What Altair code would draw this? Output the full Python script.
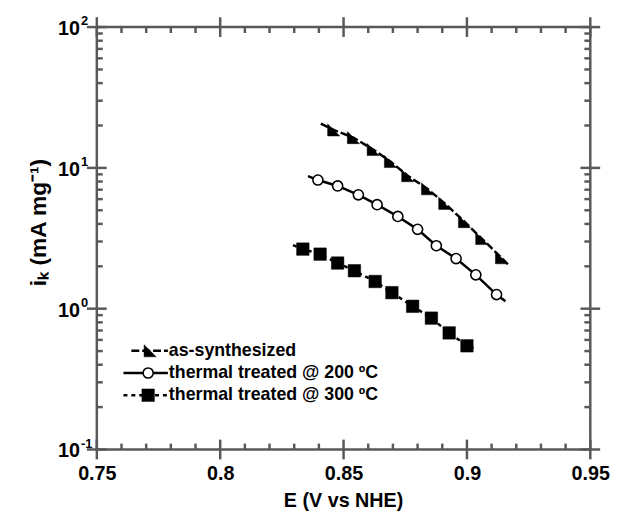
import altair as alt
import pandas as pd

# ---------------- data ----------------
# as-synthesized (triangles)
tri_E = [0.846, 0.854, 0.862, 0.869, 0.876, 0.884, 0.891, 0.899, 0.906, 0.914]
tri_i = [18.6, 16.4, 13.5, 11.1, 8.8, 7.1, 5.6, 4.15, 3.15, 2.3]
tri_line_E = [0.8408] + tri_E + [0.9168]
tri_line_i = [20.6] + tri_i + [2.05]

# thermal treated @ 200 C (open circles)
cir_E = [0.8396, 0.8476, 0.856, 0.8636, 0.872, 0.880, 0.8876, 0.8956, 0.9036, 0.912]
cir_i = [8.2, 7.44, 6.44, 5.48, 4.52, 3.66, 2.8, 2.27, 1.74, 1.26]
cir_line_E = [0.8356] + cir_E + [0.9156]
cir_line_i = [8.75] + cir_i + [1.13]

# thermal treated @ 300 C (filled squares)
sq_E = [0.8335, 0.8405, 0.8476, 0.8544, 0.8628, 0.8696, 0.878, 0.8856, 0.8928, 0.900]
sq_i = [2.65, 2.44, 2.11, 1.86, 1.56, 1.30, 1.04, 0.857, 0.673, 0.545]
sq_line_E = [0.8295] + sq_E + [0.9036]
sq_line_i = [2.83] + sq_i + [0.52]

legend_labels = ["as-synthesized", "thermal treated @ 200 \u00baC", "thermal treated @ 300 \u00baC"]

x_major = [0.75, 0.80, 0.85, 0.90, 0.95]
x_minor = [0.76, 0.77, 0.78, 0.79, 0.81, 0.82, 0.83, 0.84, 0.86, 0.87, 0.88, 0.89,
           0.91, 0.92, 0.93, 0.94]
y_major = [0.1, 1, 10, 100]
y_exp = ["-1", "0", "1", "2"]
y_minor = [0.2, 0.3, 0.4, 0.5, 0.6, 0.7, 0.8, 0.9,
           2, 3, 4, 5, 6, 7, 8, 9,
           20, 30, 40, 50, 60, 70, 80, 90]

x_title = "E (V vs NHE)"
y_title = "i\u2096 (mA mg\u207b\u00b9)"

# ---------------- styling ----------------
W, H = 500, 428
AX = "#595959"
FONT = "Liberation Sans"
TW = 2.5

xs = alt.Scale(domain=[0.75, 0.95], nice=False, zero=False)
ys = alt.Scale(type="log", domain=[0.1, 100], nice=False)

x_axis = alt.Axis(values=x_major, format="~g", ticks=False, domain=False, grid=False,
                  labelFont=FONT, labelFontSize=20, labelFontWeight="bold",
                  labelColor="black", labelPadding=14, labelFlush=False,
                  labelOverlap=False, title=None)
y_axis = alt.Axis(labels=False, ticks=False, domain=False, grid=False, title=None)


def X(field):
    return alt.X(field, type="quantitative", scale=xs, axis=x_axis)


def Y(field):
    return alt.Y(field, type="quantitative", scale=ys, axis=y_axis)


def df(E, I):
    return pd.DataFrame({"E": E, "i": I})


one = pd.DataFrame({"a": [0]})

tri_shape = "M -1 -1 L -1 1 L 1 1 Z"

layers = []

# data lines
layers.append(alt.Chart(df(tri_line_E, tri_line_i)).mark_line(
    color="black", strokeWidth=2.5, strokeDash=[8, 3]).encode(x=X("E"), y=Y("i")))
layers.append(alt.Chart(df(cir_line_E, cir_line_i)).mark_line(
    color="black", strokeWidth=2.5).encode(x=X("E"), y=Y("i")))
layers.append(alt.Chart(df(sq_line_E, sq_line_i)).mark_line(
    color="black", strokeWidth=2.5, strokeDash=[4, 4]).encode(x=X("E"), y=Y("i")))

# markers
layers.append(alt.Chart(df(tri_E, tri_i)).mark_point(
    shape=tri_shape, filled=True, fill="black", stroke="black", strokeWidth=0.5,
    size=150, opacity=1).encode(x=X("E"), y=Y("i")))
layers.append(alt.Chart(df(cir_E, cir_i)).mark_point(
    shape="circle", fill="white", stroke="black", strokeWidth=1.6,
    size=105, opacity=1).encode(x=X("E"), y=Y("i")))
layers.append(alt.Chart(df(sq_E, sq_i)).mark_point(
    shape="square", filled=True, fill="black", stroke="black", strokeWidth=0.5,
    size=160, opacity=1).encode(x=X("E"), y=Y("i")))

# ticks (major cross the frame, minor inside)
xmaj = pd.DataFrame({"v": x_major})
xmin = pd.DataFrame({"v": x_minor})
ymaj = pd.DataFrame({"v": y_major, "exp": y_exp, "base": ["10"] * len(y_major)})
ymin = pd.DataFrame({"v": y_minor})

for (d, a, b) in [(xmaj, H - 10, H + 10), (xmaj, -10, 10), (xmin, H - 6, H), (xmin, 0, 6)]:
    layers.append(alt.Chart(d).mark_rule(color=AX, strokeWidth=TW).encode(
        x=X("v"), y=alt.value(a), y2=alt.value(b)))
for (d, a, b) in [(ymaj, -10, 10), (ymaj, W - 10, W + 10), (ymin, 0, 6), (ymin, W - 6, W)]:
    layers.append(alt.Chart(d).mark_rule(color=AX, strokeWidth=TW).encode(
        y=Y("v"), x=alt.value(a), x2=alt.value(b)))

# y tick labels 10^n
layers.append(alt.Chart(ymaj).mark_text(
    font=FONT, fontSize=20, fontWeight="bold", color="black", align="right",
    baseline="middle", dy=2).encode(y=Y("v"), x=alt.value(-17), text="base:N"))
layers.append(alt.Chart(ymaj).mark_text(
    font=FONT, fontSize=13, fontWeight="bold", color="black", align="left",
    baseline="middle", dy=-6).encode(y=Y("v"), x=alt.value(-16), text="exp:N"))

# axis titles
layers.append(alt.Chart(one).mark_text(
    font=FONT, fontSize=23, fontWeight="bold", color="black", align="center",
    baseline="middle", angle=270).encode(
    x=alt.value(-58), y=alt.value(198), text=alt.value(y_title)))
layers.append(alt.Chart(one).mark_text(
    font=FONT, fontSize=20, fontWeight="bold", color="black", align="center",
    baseline="middle").encode(
    x=alt.value(W / 2), y=alt.value(480), text=alt.value(x_title)))

# legend
rows = [328, 350.5, 373]
dashes = [[8, 3], None, [4, 4]]
starts = [35, 27, 27]
for k in range(3):
    ry = rows[k]
    rule_kw = dict(color="black", strokeWidth=2.5)
    if dashes[k]:
        rule_kw["strokeDash"] = dashes[k]
    layers.append(alt.Chart(one).mark_rule(**rule_kw).encode(
        x=alt.value(starts[k]), x2=alt.value(72), y=alt.value(ry)))
layers.append(alt.Chart(one).mark_point(
    shape=tri_shape, filled=True, fill="black", stroke="black", strokeWidth=0.5,
    size=150, opacity=1).encode(x=alt.value(54), y=alt.value(rows[0])))
layers.append(alt.Chart(one).mark_point(
    shape="circle", fill="white", stroke="black", strokeWidth=1.6,
    size=105, opacity=1).encode(x=alt.value(52), y=alt.value(rows[1])))
layers.append(alt.Chart(one).mark_point(
    shape="square", filled=True, fill="black", stroke="black", strokeWidth=0.5,
    size=160, opacity=1).encode(x=alt.value(52), y=alt.value(rows[2])))
for k in range(3):
    layers.append(alt.Chart(one).mark_text(
        font=FONT, fontSize=18, fontWeight="bold", color="black", align="left",
        baseline="middle").encode(
        x=alt.value(73), y=alt.value(rows[k]), text=alt.value(legend_labels[k])))

chart = alt.layer(*layers).properties(
    width=W, height=H,
    autosize=alt.AutoSizeParams(type="none"),
    padding={"left": 90, "top": 16, "right": 23, "bottom": 60},
    background="white",
).configure_view(stroke=AX, strokeWidth=TW)

chart.save("out.html", embed_options={"renderer": "svg", "actions": False})
